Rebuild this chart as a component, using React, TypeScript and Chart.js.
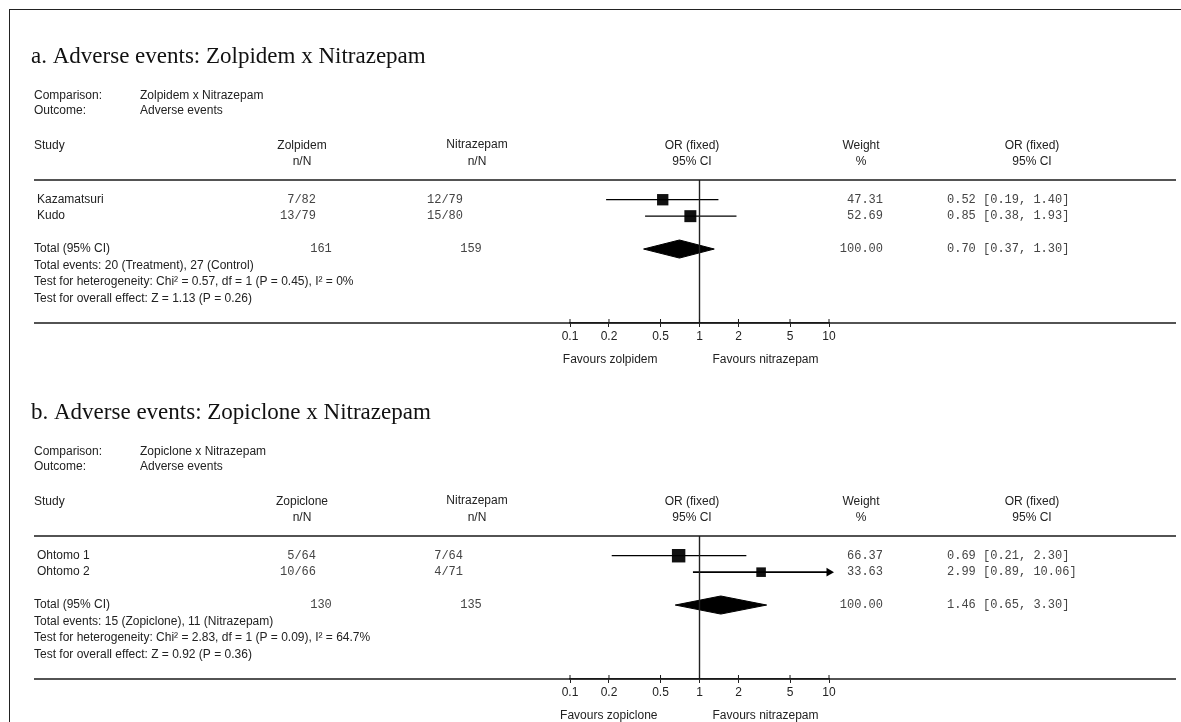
import React, { useEffect, useRef } from 'react';
import { Chart, registerables } from 'chart.js';

Chart.register(...registerables);

// ---- shared axis ----
const tickValues = [0.1, 0.2, 0.5, 1, 2, 5, 10];
const tickLabels = ['0.1', '0.2', '0.5', '1', '2', '5', '10'];

// ---- section a ----
const titleA = 'a. Adverse events: Zolpidem x Nitrazepam';
const comparisonA = 'Zolpidem x Nitrazepam';
const outcomeA = 'Adverse events';
const treatmentA = 'Zolpidem';
const controlA = 'Nitrazepam';
const studiesA = ['Kazamatsuri', 'Kudo'];
const treatNA = ['7/82', '13/79'];
const ctrlNA = ['12/79', '15/80'];
const orA = [0.52, 0.85];
const loA = [0.19, 0.38];
const hiA = [1.4, 1.93];
const weightA = [47.31, 52.69];
const totalA = [0.7, 0.37, 1.3]; // OR, lo, hi
const totalNA = ['161', '159'];
const infoA = [
  'Total events: 20 (Treatment), 27 (Control)',
  'Test for heterogeneity: Chi\u00B2 = 0.57, df = 1 (P = 0.45), I\u00B2 = 0%',
  'Test for overall effect: Z = 1.13 (P = 0.26)',
];
const favoursA = ['Favours zolpidem', 'Favours nitrazepam'];

// ---- section b ----
const titleB = 'b. Adverse events: Zopiclone x Nitrazepam';
const comparisonB = 'Zopiclone x Nitrazepam';
const outcomeB = 'Adverse events';
const treatmentB = 'Zopiclone';
const controlB = 'Nitrazepam';
const studiesB = ['Ohtomo 1', 'Ohtomo 2'];
const treatNB = ['5/64', '10/66'];
const ctrlNB = ['7/64', '4/71'];
const orB = [0.69, 2.99];
const loB = [0.21, 0.89];
const hiB = [2.3, 10.06];
const weightB = [66.37, 33.63];
const totalB = [1.46, 0.65, 3.3];
const totalNB = ['130', '135'];
const infoB = [
  'Total events: 15 (Zopiclone), 11 (Nitrazepam)',
  'Test for heterogeneity: Chi\u00B2 = 2.83, df = 1 (P = 0.09), I\u00B2 = 64.7%',
  'Test for overall effect: Z = 0.92 (P = 0.36)',
];
const favoursB = ['Favours zopiclone', 'Favours nitrazepam'];

const studyRows = [1, 2];
const totalRow = 4;
const infoRows = [5, 6, 7];

const SANS = '"Liberation Sans", Arial, Helvetica, sans-serif';
const MONO = '"Liberation Mono", "Courier New", monospace';
const SERIF = '"Liberation Serif", "Times New Roman", serif';

const W = 1181;
const H = 380;
const SECTION_STEP = 356;

type Section = {
  title: string; comparison: string; outcome: string; treatment: string; control: string;
  studies: string[]; treatN: string[]; ctrlN: string[]; or: number[]; lo: number[]; hi: number[];
  weight: number[]; total: number[]; totalN: string[]; info: string[]; favours: string[];
};

const sectionA: Section = {
  title: titleA, comparison: comparisonA, outcome: outcomeA, treatment: treatmentA, control: controlA,
  studies: studiesA, treatN: treatNA, ctrlN: ctrlNA, or: orA, lo: loA, hi: hiA, weight: weightA,
  total: totalA, totalN: totalNA, info: infoA, favours: favoursA,
};
const sectionB: Section = {
  title: titleB, comparison: comparisonB, outcome: outcomeB, treatment: treatmentB, control: controlB,
  studies: studiesB, treatN: treatNB, ctrlN: ctrlNB, or: orB, lo: loB, hi: hiB, weight: weightB,
  total: totalB, totalN: totalNB, info: infoB, favours: favoursB,
};

const fmt = (v: number) => v.toFixed(2);

function textPlugin(s: Section) {
  return {
    id: 'forestText',
    afterDraw(chart: any) {
      const ctx = chart.ctx as CanvasRenderingContext2D;
      const xs = chart.scales.x;
      const ys = chart.scales.y;
      const a = chart.chartArea;
      ctx.save();
      const line = (x1: number, y1: number, x2: number, y2: number, w = 1.5) => {
        ctx.beginPath();
        ctx.lineWidth = w;
        ctx.strokeStyle = '#1a1a1a';
        ctx.moveTo(x1, y1);
        ctx.lineTo(x2, y2);
        ctx.stroke();
      };
      // separator and axis lines
      line(34, a.top, 1176, a.top);
      line(34, a.bottom, 1176, a.bottom);
      tickValues.forEach((v) => {
        const px = xs.getPixelForValue(v);
        line(px, a.bottom - 4, px, a.bottom, 1);
      });

      const text = (t: string, x: number, y: number, font: string, align: CanvasTextAlign = 'left', color = '#222') => {
        ctx.font = font;
        ctx.fillStyle = color;
        ctx.textAlign = align;
        ctx.textBaseline = 'middle';
        ctx.fillText(t, x, y);
      };
      const sans = `12px ${SANS}`;
      const mono = `12px ${MONO}`;
      const numColor = '#444';

      // title + meta
      text(s.title, 31, a.top - 123, `23px ${SERIF}`, 'left', '#111');
      text('Comparison:', 34, a.top - 84, sans);
      text(s.comparison, 140, a.top - 84, sans);
      text('Outcome:', 34, a.top - 69, sans);
      text(s.outcome, 140, a.top - 69, sans);

      // column headers
      const h1 = a.top - 34;
      const h2 = a.top - 18;
      text('Study', 34, h1, sans);
      text(s.treatment, 302, h1, sans, 'center');
      text('n/N', 302, h2, sans, 'center');
      text(s.control, 477, h1 - 1, sans, 'center');
      text('n/N', 477, h2, sans, 'center');
      text('OR (fixed)', 692, h1, sans, 'center');
      text('95% CI', 692, h2, sans, 'center');
      text('Weight', 861, h1, sans, 'center');
      text('%', 861, h2, sans, 'center');
      text('OR (fixed)', 1032, h1, sans, 'center');
      text('95% CI', 1032, h2, sans, 'center');

      // study rows
      s.studies.forEach((name, i) => {
        const y = ys.getPixelForValue(studyRows[i]);
        text(name, 37, y, sans);
        text(s.treatN[i], 316, y, mono, 'right', numColor);
        text(s.ctrlN[i], 463, y, mono, 'right', numColor);
        text(fmt(s.weight[i]), 883, y, mono, 'right', numColor);
        text(`${fmt(s.or[i])} [${fmt(s.lo[i])}, ${fmt(s.hi[i])}]`, 947, y, mono, 'left', numColor);
      });
      // total row
      const ty = ys.getPixelForValue(totalRow);
      text('Total (95% CI)', 34, ty, sans);
      text(s.totalN[0], 321, ty, mono, 'center', numColor);
      text(s.totalN[1], 471, ty, mono, 'center', numColor);
      text('100.00', 883, ty, mono, 'right', numColor);
      text(`${fmt(s.total[0])} [${fmt(s.total[1])}, ${fmt(s.total[2])}]`, 947, ty, mono, 'left', numColor);
      s.info.forEach((t, i) => text(t, 34, ys.getPixelForValue(infoRows[i]), sans));

      // favours labels
      const p1 = xs.getPixelForValue(1);
      text(s.favours[0], p1 - 42, a.bottom + 37, sans, 'right');
      text(s.favours[1], p1 + 13, a.bottom + 37, sans, 'left');
      ctx.restore();
    },
  };
}

function Forest({ s, top }: { s: Section; top: number }) {
  const ref = useRef<HTMLCanvasElement>(null);
  useEffect(() => {
    const canvas = ref.current!;
    const datasets: any[] = [];
    // line of no effect
    datasets.push({
      type: 'line',
      data: [{ x: 1, y: -0.2 }, { x: 1, y: 8.5 }],
      borderColor: '#222', borderWidth: 1.4, pointRadius: 0,
    });
    // CI lines
    s.or.forEach((_, i) => {
      datasets.push({
        type: 'line',
        data: [{ x: s.lo[i], y: studyRows[i] }, { x: s.hi[i], y: studyRows[i] }],
        borderColor: '#000', borderWidth: s.hi[i] > 10 ? 1.8 : 1.3, pointRadius: 0,
      });
    });
    // squares
    datasets.push({
      type: 'scatter',
      data: s.or.map((v, i) => ({ x: v, y: studyRows[i] })),
      pointStyle: 'rect',
      pointRadius: s.weight.map((w) => (1.65 * Math.sqrt(w)) / Math.SQRT2),
      backgroundColor: '#111', borderColor: '#111', borderWidth: 0,
    });
    // arrows for CIs beyond the axis
    const arrows = s.hi.map((h, i) => ({ h, i })).filter((d) => d.h > 10);
    if (arrows.length) {
      datasets.push({
        type: 'scatter',
        data: arrows.map((d) => ({ x: 10, y: studyRows[d.i] })),
        pointStyle: 'triangle', rotation: 90, pointRadius: 5,
        backgroundColor: '#000', borderColor: '#000', borderWidth: 0, clip: false,
      });
    }
    // pooled diamond
    const [est, lo, hi] = s.total;
    datasets.push({
      type: 'line',
      data: [
        { x: lo, y: totalRow }, { x: est, y: totalRow - 0.55 }, { x: hi, y: totalRow },
        { x: est, y: totalRow + 0.55 }, { x: lo, y: totalRow },
      ],
      borderColor: '#000', borderWidth: 1, backgroundColor: '#000', fill: 'shape', pointRadius: 0, tension: 0,
    });

    const chart = new Chart(canvas, {
      type: 'scatter',
      data: { datasets },
      options: {
        animation: false,
        responsive: false,
        devicePixelRatio: 1,
        events: [],
        layout: { padding: { left: 570, right: W - 829, top: 180, bottom: 0 } },
        plugins: { legend: { display: false }, tooltip: { enabled: false } },
        scales: {
          x: {
            type: 'logarithmic', min: 0.1, max: 10, position: 'bottom',
            afterBuildTicks: (scale: any) => { scale.ticks = tickValues.map((v) => ({ value: v })); },
            afterFit: (scale: any) => { scale.height = H - 323; },
            grid: { display: true, drawOnChartArea: false, drawTicks: true, tickLength: 4, color: '#222', lineWidth: 1 },
            border: { display: true, color: '#1a1a1a', width: 1.5 },
            ticks: {
              autoSkip: false, maxRotation: 0, padding: 2, color: '#222',
              font: { family: SANS, size: 12 },
              callback: (_v: any, i: number) => tickLabels[i],
            },
          },
          y: { type: 'linear', display: false, reverse: true, min: -0.2, max: 8.5 },
        },
      },
      plugins: [textPlugin(s)],
    } as any);
    return () => chart.destroy();
  }, [s]);
  return (
    <canvas
      ref={ref}
      width={W}
      height={H}
      style={{ position: 'absolute', left: 0, top, width: W, height: H }}
    />
  );
}

export default function App() {
  return (
    <div style={{ position: 'absolute', left: 0, top: 0, width: W, height: 722, overflow: 'hidden', background: '#fff' }}>
      <div style={{ position: 'absolute', left: 9, top: 9, width: 1250, height: 800, border: '1.5px solid #222' }} />
      <Forest s={sectionA} top={0} />
      <Forest s={sectionB} top={SECTION_STEP} />
    </div>
  );
}
